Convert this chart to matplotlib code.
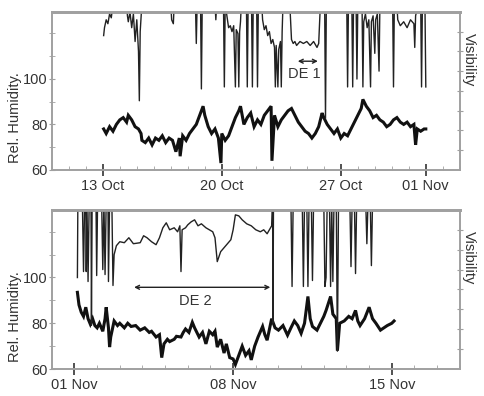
import matplotlib.pyplot as plt

# --- data: October panel (day of month, Nov days continue as 32, 33 ...) ---
oct_t_rh = [13.05, 13.2, 13.4, 13.6, 13.8, 14.0, 14.2, 14.4, 14.5, 14.7, 14.9, 15.1, 15.25, 15.3,
            15.5, 15.7, 15.9, 16.1, 16.3, 16.5, 16.7, 16.9, 17.1, 17.3, 17.5, 17.55, 17.7, 17.9,
            18.1, 18.3, 18.5, 18.7, 18.9, 19.0, 19.2, 19.4, 19.6, 19.8, 19.95, 20.0, 20.2, 20.4,
            20.6, 20.8, 21.0, 21.1, 21.3, 21.5, 21.7, 21.9, 22.1, 22.3, 22.5, 22.7, 22.9, 22.95,
            23.1, 23.3, 23.5, 23.7, 23.9, 24.1, 24.3, 24.5, 24.7, 24.9, 25.1, 25.3, 25.5, 25.7,
            25.9, 26.0, 26.2, 26.4, 26.6, 26.8, 27.0, 27.2, 27.4, 27.6, 27.8, 28.0, 28.2, 28.3,
            28.5, 28.7, 28.9, 29.1, 29.3, 29.5, 29.7, 29.9, 30.1, 30.3, 30.5, 30.7, 30.9, 31.1,
            31.3, 31.4, 31.5, 31.7, 31.9, 32.0]
oct_rh = [78, 76, 79, 77, 80, 82, 83, 81, 84, 82, 79, 78, 76, 73,
          72, 74, 71, 74, 73, 75, 72, 74, 73, 68, 74, 66, 75, 73,
          76, 78, 80, 84, 88, 84, 79, 76, 78, 74, 63, 76, 73, 75,
          79, 83, 86, 88, 80, 83, 85, 79, 82, 80, 84, 86, 88, 64,
          84, 79, 82, 84, 86, 87, 84, 81, 79, 77, 76, 74, 76, 79,
          85, 83, 80, 78, 76, 78, 74, 76, 75, 78, 81, 84, 87, 91,
          88, 86, 83, 84, 82, 81, 79, 80, 82, 83, 81, 80, 81, 79,
          80, 71, 78, 77, 78, 78]

oct_t_vis = [13.05, 13.1, 13.2, 13.3, 13.4, 13.5, 13.6, 14.4, 14.45, 14.5, 14.6, 14.7, 14.8, 14.9,
             15.0, 15.1, 15.15, 15.2, 15.3, 17.0, 17.05, 17.15, 17.2, 18.45, 18.5, 18.55, 18.75,
             18.8, 18.85, 19.6, 19.65, 19.7, 20.1, 20.15, 20.2, 20.3, 20.4, 20.5, 20.6, 20.7,
             20.8, 20.85, 20.95, 21.0, 21.05, 21.1, 21.15, 21.45, 21.5, 21.55, 21.75, 21.8, 21.85,
             22.05, 22.1, 22.15, 22.35, 22.4, 22.5, 22.6, 22.7, 22.8, 22.9, 23.0, 23.1, 23.15,
             23.2, 23.3, 23.35, 23.45, 23.5, 23.55, 23.6, 24.0, 24.1, 24.2, 24.3, 24.4, 24.6,
             24.8, 25.0, 25.2, 25.4, 25.6, 25.7, 25.8, 26.05, 26.1, 26.15, 27.35, 27.4, 27.45,
             27.65, 27.7, 27.75, 27.9, 27.95, 28.0, 28.25, 28.3, 28.35, 28.45, 28.55, 28.65,
             28.75, 28.8, 28.9, 29.0, 29.05, 29.15, 29.25, 29.3, 30.05, 30.1, 30.15, 30.3, 30.35,
             30.5, 30.7, 30.9, 31.1, 31.3, 31.35, 31.4, 31.55, 31.7, 31.75, 31.8, 31.95, 32.0]
oct_vis = [6.8, 7.2, 7.6, 7.4, 7.9, 7.7, 8.4, 8.4, 7.8, 7.5, 8.0, 7.2, 7.9, 6.5,
           7.6, 6.0, 3.5, 7.0, 8.4, 8.4, 7.6, 7.4, 8.4, 8.4, 6.4, 8.4, 8.4,
           4.1, 8.4, 8.4, 7.6, 8.4, 8.4, 4.2, 8.4, 7.8, 7.2, 7.3, 7.0, 7.3,
           4.2, 7.1, 6.9, 4.2, 7.0, 7.5, 8.4, 8.4, 4.2, 8.4, 8.4, 4.2, 8.4,
           8.4, 4.2, 8.4, 8.4, 7.6, 7.1, 7.3, 6.8, 7.0, 6.4, 6.6, 6.2, 4.2,
           6.3, 4.2, 6.1, 6.5, 4.2, 7.0, 8.4, 8.4, 6.6, 6.4, 6.5, 6.3, 6.5,
           6.4, 6.5, 6.3, 6.5, 6.2, 6.4, 8.4, 8.4, 2.6, 8.4, 8.4, 4.2, 8.4,
           8.4, 4.2, 8.4, 8.4, 4.6, 8.4, 8.4, 4.2, 7.5, 7.9, 7.2, 7.6,
           4.2, 7.5, 7.8, 5.9, 7.6, 7.9, 5.0, 8.4, 8.4, 4.2, 8.4, 8.4, 7.6,
           7.3, 7.5, 7.2, 7.6, 7.4, 6.2, 7.8, 8.4, 8.4, 4.2, 8.4, 8.4, 4.2]

oct_ticks = [13, 20, 27, 32]
oct_labels = ['13 Oct', '20 Oct', '27 Oct', '01 Nov']

# --- data: November panel (day of month) ---
nov_t_rh = [1.13, 1.2, 1.3, 1.4, 1.5, 1.6, 1.7, 1.8, 1.9, 2.0, 2.1, 2.25, 2.35, 2.4, 2.5, 2.55,
            2.6, 2.75, 2.9, 3.0, 3.2, 3.35, 3.5, 3.7, 3.9, 4.1, 4.3, 4.4, 4.6, 4.75, 4.85, 4.95,
            5.1, 5.2, 5.4, 5.5, 5.7, 5.8, 5.9, 6.05, 6.2, 6.3, 6.5, 6.65, 6.8, 6.95, 7.1, 7.2,
            7.3, 7.45, 7.6, 7.7, 7.85, 8.0, 8.1, 8.25, 8.4, 8.55, 8.7, 8.8, 8.95, 9.1, 9.3, 9.4,
            9.5, 9.7, 9.85, 10.0, 10.2, 10.4, 10.55, 10.7, 10.85, 11.0, 11.15, 11.3, 11.4, 11.5,
            11.7, 11.85, 12.0, 12.1, 12.3, 12.4, 12.55, 12.6, 12.7, 12.9, 13.1, 13.25, 13.4,
            13.5, 13.6, 13.8, 14.0, 14.15, 14.3, 14.5, 14.65, 14.8, 15.0, 15.1]
nov_rh = [93.5, 88, 84.8, 83, 87, 82, 79.6, 82, 79, 78, 80, 76.5, 82, 87, 78, 69.6,
          74, 81, 79, 80, 78, 80, 78.6, 79, 77, 78, 76, 76.5, 74, 75, 65, 71,
          73, 72, 73, 74.3, 74, 76, 77.5, 76, 80.4, 78, 74, 76, 71, 76.5, 75, 76.5,
          69.6, 73, 67, 71, 65, 64.4, 62, 66, 70, 66, 68, 64, 70, 74, 78.6, 75,
          72.6, 82, 78, 77, 79, 74.8, 78, 81, 79, 75.6, 80, 91.7, 82, 78.6,
          77, 80, 83, 85.6, 91.7, 84, 82, 68, 80, 81, 83, 82, 85.6,
          81, 79, 82, 87, 82, 80, 77, 78, 79, 80, 81]

nov_t_vis = [1.13, 1.15, 1.35, 1.4, 1.45, 1.5, 1.52, 1.55, 1.6, 1.65, 1.73, 1.75, 1.78, 1.95,
             1.98, 2.02, 2.2, 2.25, 2.3, 2.35, 2.4, 2.48, 2.5, 2.55, 2.65, 2.7, 2.75, 2.85, 3.0,
             3.2, 3.4, 3.6, 3.9, 4.05, 4.2, 4.4, 4.6, 4.75, 4.9, 5.05, 5.2, 5.4, 5.55, 5.65,
             5.7, 5.75, 5.9, 6.0, 6.15, 6.3, 6.45, 6.6, 6.8, 6.95, 7.1, 7.2, 7.3, 7.45, 7.6,
             7.75, 7.9, 8.0, 8.1, 8.25, 8.4, 8.6, 8.8, 9.0, 9.2, 9.35, 9.5, 9.6, 9.7, 9.74,
             9.76, 9.78, 10.55, 10.6, 10.65, 11.05, 11.1, 11.15, 11.25, 11.3, 11.35, 11.45,
             11.5, 11.55, 12.0, 12.05, 12.1, 12.15, 12.25, 12.3, 12.35, 12.4, 12.45, 12.55,
             12.6, 12.65, 13.15, 13.2, 13.25, 13.35, 13.4, 13.45, 13.85, 13.9, 13.95, 14.05,
             14.1, 14.15, 15.1]
nov_vis = [4.6, 8.4, 8.4, 4.9, 8.4, 8.4, 4.9, 8.4, 4.4, 8.4, 8.4, 2.2, 8.4, 8.4,
           4.7, 8.4, 8.4, 5.0, 8.4, 4.75, 8.4, 8.4, 4.4, 8.4, 8.4, 4.2, 5.75, 6.2, 6.4,
           6.35, 6.6, 6.3, 6.35, 6.7, 6.6, 6.4, 6.25, 6.6, 7.1, 7.35, 7.0, 7.1, 6.9, 7.2,
           4.9, 7.0, 7.1, 7.25, 7.4, 7.5, 7.2, 7.3, 7.1, 7.0, 6.9, 6.6, 5.4, 5.9, 6.1,
           6.3, 6.5, 7.0, 7.75, 7.7, 7.5, 7.3, 7.2, 7.0, 6.9, 7.0, 6.8, 7.0, 7.2, 8.4,
           2.3, 8.4, 8.4, 4.15, 8.4, 8.4, 4.15, 8.4, 8.4, 4.15, 8.4, 8.4,
           4.45, 8.4, 8.4, 4.15, 4.6, 8.4, 8.4, 4.15, 8.4, 4.4, 8.4, 8.4,
           0.9, 8.4, 8.4, 5.15, 8.4, 8.4, 4.8, 8.4, 8.4, 6.3, 8.4, 8.4,
           5.2, 8.4, 8.4]

nov_ticks = [1, 8, 15]
nov_labels = ['01 Nov', '08 Nov', '15 Nov']

# --- figure ---
plt.rcParams['font.family'] = ['Liberation Sans', 'DejaVu Sans']
TXT = '#333333'
FRAME = '#a0a0a0'

fig = plt.figure(figsize=(4.84, 3.96), dpi=100, facecolor='white')


def panel(rect, t_rh, rh, t_vis, vis, xlim, ticks, labels):
    ax = fig.add_axes(rect)
    ax.plot(t_rh, rh, color='#111111', lw=2.2, solid_joinstyle='miter')
    ax.set_xlim(*xlim)
    ax.set_ylim(60, 129.5)
    ax.set_yticks([60, 80, 100])
    ax.set_yticks([70, 90, 110, 120], minor=True)
    ax.set_xticks(ticks)
    ax.set_xticklabels(labels)
    ax.set_xticks(range(int(xlim[0]), int(xlim[1]) + 1), minor=True)
    ax.tick_params(axis='x', which='major', direction='inout', length=9, width=1.2,
                   color='#333333', labelsize=10.5, labelcolor=TXT, pad=2)
    ax.tick_params(axis='x', which='minor', direction='in', length=3, color=FRAME)
    ax.tick_params(axis='y', which='both', direction='inout', length=4, color=FRAME,
                   labelsize=10.5, labelcolor=TXT, pad=1)
    ax.set_ylabel('Rel. Humidity.', fontsize=10.5, color=TXT)
    ax.yaxis.set_label_coords(-0.072, 0.33)

    ax2 = ax.twinx()
    ax2.plot(t_vis, vis, color='#222222', lw=1.0)
    ax2.set_ylim(0, 8)
    ax2.set_yticks(range(1, 8))
    ax2.set_yticklabels([])
    ax2.tick_params(axis='y', direction='inout', length=4, color=FRAME)
    ax2.set_ylabel('Visibility', fontsize=10.5, color=TXT, rotation=270)
    ax2.yaxis.set_label_coords(1.04, 0.70)
    for a in (ax, ax2):
        for s in a.spines.values():
            s.set_color(FRAME)
            s.set_linewidth(1.2)
        a.spines['top'].set_linewidth(2.0)
    return ax


ax_top = panel([0.107, 0.571, 0.843, 0.399], oct_t_rh, oct_rh, oct_t_vis, oct_vis,
               (10, 34), oct_ticks, oct_labels)
ax_top.annotate('', xy=(25.65, 107.8), xytext=(24.47, 107.8),
                arrowprops=dict(arrowstyle='<->', lw=1.0, color='#222222',
                                shrinkA=0, shrinkB=0, mutation_scale=7))
ax_top.text(24.85, 102.2, 'DE 1', ha='center', va='center', fontsize=10.5, color=TXT)

ax_bot = panel([0.107, 0.068, 0.843, 0.402], nov_t_rh, nov_rh, nov_t_vis, nov_vis,
               (0, 18), nov_ticks, nov_labels)
ax_bot.annotate('', xy=(9.64, 95.7), xytext=(3.63, 95.7),
                arrowprops=dict(arrowstyle='<->', lw=1.0, color='#222222',
                                shrinkA=0, shrinkB=0, mutation_scale=7))
ax_bot.text(6.35, 89.6, 'DE 2', ha='center', va='center', fontsize=10.5, color=TXT)

fig.savefig('out.png', dpi=100)
